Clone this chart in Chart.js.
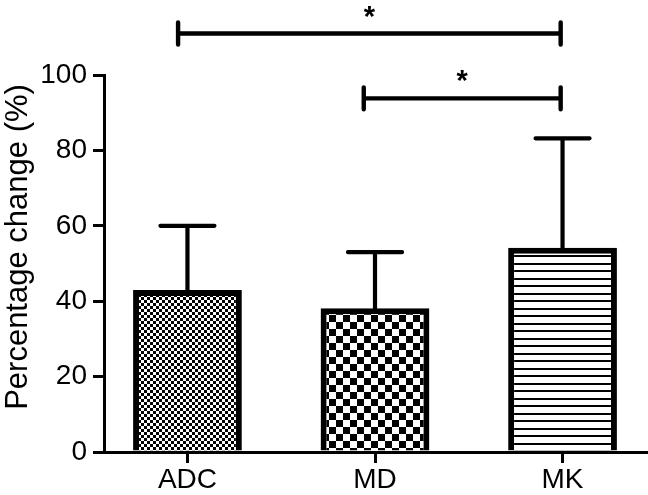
<!DOCTYPE html>
<html>
<head>
<meta charset="utf-8">
<script src="https://cdn.jsdelivr.net/npm/chart.js@4.4.1/dist/chart.umd.min.js"></script>
<style>
  html, body { margin: 0; padding: 0; background: #fff; }
  #wrap { width: 648px; height: 495px; }
</style>
</head>
<body>
<div id="wrap"><canvas id="grafico" width="648" height="495"></canvas></div>
<script>
const categories = ["ADC", "MD", "MK"];
const means = [43.0, 38.1, 54.2];
const upperSD = [60.0, 53.0, 83.2];
const yTicks = [0, 20, 40, 60, 80, 100];
const yTitle = "Percentage change (%)";

// significance brackets (x in category units, y in %)
const sigFrom = [-0.05, 0.94];
const sigTo = [1.99, 1.99];
const sigLevel = [111.0, 93.8];
const sigLabel = ["*", "*"];

const FONT = "'Liberation Sans', Arial, Helvetica, sans-serif";

function makePattern(kind) {
  const c = document.createElement("canvas");
  const g = c.getContext("2d");
  if (kind === "fine") {
    c.width = 6; c.height = 6;
    g.fillStyle = "#fff"; g.fillRect(0, 0, 6, 6);
    g.fillStyle = "#000";
    g.fillRect(0, 0, 3, 3); g.fillRect(3, 3, 3, 3);
  } else if (kind === "coarse") {
    c.width = 14; c.height = 14;
    g.fillStyle = "#fff"; g.fillRect(0, 0, 14, 14);
    g.fillStyle = "#000";
    g.fillRect(0, 0, 7, 7); g.fillRect(7, 7, 7, 7);
  } else {
    c.width = 8; c.height = 15;
    g.fillStyle = "#fff"; g.fillRect(0, 0, 8, 15);
    g.fillStyle = "#000";
    g.fillRect(0, 0, 8, 2); g.fillRect(0, 8, 8, 2);
  }
  return g.createPattern(c, "repeat");
}

const ctx = document.getElementById("grafico").getContext("2d");
const fills = [makePattern("fine"), makePattern("coarse"), makePattern("lines")];

const errorBars = {
  id: "errorBars",
  afterDatasetsDraw(chart) {
    const meta = chart.getDatasetMeta(0);
    const y = chart.scales.y;
    const c = chart.ctx;
    c.save();
    c.strokeStyle = "#000";
    c.lineWidth = 4.2;
    c.lineCap = "round";
    meta.data.forEach((bar, i) => {
      const top = y.getPixelForValue(upperSD[i]);
      c.beginPath();
      c.moveTo(bar.x, bar.y);
      c.lineTo(bar.x, top);
      c.moveTo(bar.x - 27, top);
      c.lineTo(bar.x + 27, top);
      c.stroke();
    });
    c.restore();
  }
};

const brackets = {
  id: "brackets",
  afterDraw(chart) {
    const x = chart.scales.x;
    const y = chart.scales.y;
    const c = chart.ctx;
    c.save();
    c.strokeStyle = "#000";
    c.fillStyle = "#000";
    c.lineWidth = 4.4;
    c.lineCap = "round";
    c.font = "bold 29px " + FONT;
    c.textAlign = "center";
    c.textBaseline = "alphabetic";
    sigLevel.forEach((lvl, i) => {
      const x1 = x.getPixelForValue(sigFrom[i]);
      const x2 = x.getPixelForValue(sigTo[i]);
      const py = y.getPixelForValue(lvl);
      c.beginPath();
      c.moveTo(x1, py); c.lineTo(x2, py);
      c.moveTo(x1, py - 11); c.lineTo(x1, py + 11);
      c.moveTo(x2, py - 11); c.lineTo(x2, py + 11);
      c.stroke();
      c.fillText(sigLabel[i], (x1 + x2) / 2, py - 8);
    });

    // y axis title, sitting a bit above the axis middle like the original
    c.font = "31px " + FONT;
    c.textBaseline = "middle";
    c.translate(18, 247);
    c.rotate(-Math.PI / 2);
    c.fillText(yTitle, 0, 0);
    c.restore();
  }
};

new Chart(ctx, {
  type: "bar",
  data: {
    datasets: [{
      data: means.map((v, i) => ({ x: i, y: v })),
      backgroundColor: fills,
      borderColor: "#000",
      borderWidth: 6,
      borderSkipped: "start",
      categoryPercentage: 1,
      barPercentage: 0.58
    }]
  },
  options: {
    responsive: false,
    animation: false,
    events: [],
    layout: { padding: { left: 0, top: 75, right: 2, bottom: 0 } },
    plugins: { legend: { display: false }, tooltip: { enabled: false } },
    scales: {
      x: {
        type: "linear",
        offset: false,
        min: -0.445,
        max: 2.445,
        afterBuildTicks: s => { s.ticks = categories.map((_, i) => ({ value: i })); },
        afterFit: s => { s.height = 43; },
        border: { display: true, color: "#000", width: 3 },
        grid: { offset: false, drawOnChartArea: false, color: "#000", lineWidth: 3, tickLength: 11 },
        ticks: {
          color: "#000",
          font: { family: FONT, size: 28 },
          padding: 0,
          maxRotation: 0,
          autoSkip: false,
          callback: v => categories[v] ?? ""
        }
      },
      y: {
        min: 0,
        max: 100,
        afterBuildTicks: s => { s.ticks = yTicks.map(v => ({ value: v })); },
        afterFit: s => { s.width = 104; },
        border: { display: true, color: "#000", width: 3 },
        grid: { drawOnChartArea: false, color: "#000", lineWidth: 3, tickLength: 11 },
        ticks: {
          color: "#000",
          font: { family: FONT, size: 28 },
          padding: 6
        }
      }
    }
  },
  plugins: [errorBars, brackets]
});
</script>
</body>
</html>
